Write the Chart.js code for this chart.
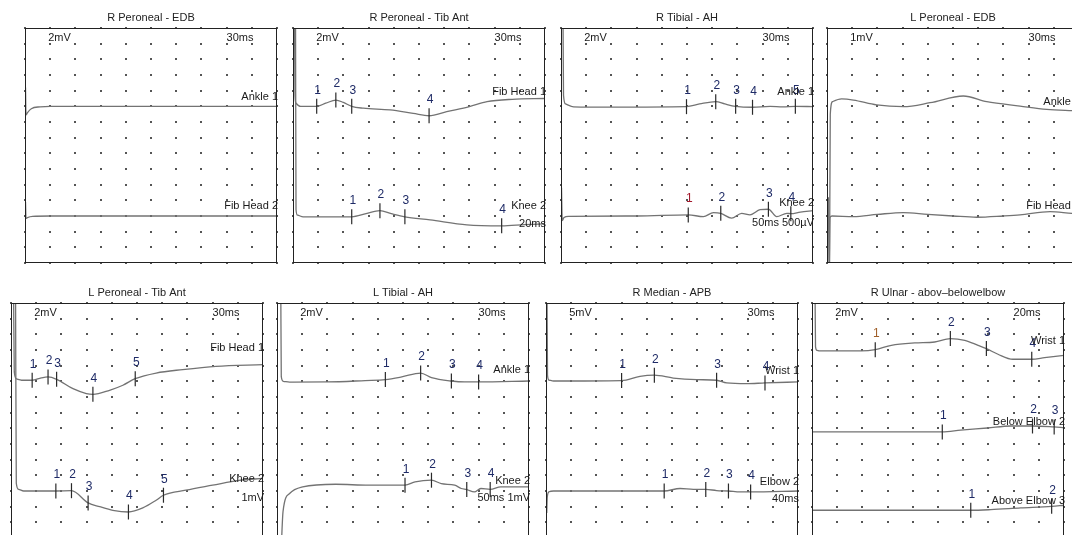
<!DOCTYPE html>
<html>
<head>
<meta charset="utf-8">
<script src="https://cdn.jsdelivr.net/npm/chart.js@4.4.1/dist/chart.umd.min.js"></script>
<style>
    html, body { margin: 0; padding: 0; background: #fff; }
    body { width: 1072px; height: 535px; overflow: hidden; position: relative; }
    canvas { position: absolute; }
</style>
</head>
<body>
<canvas id="panel_one" width="272" height="266" style="left:15px;top:7px"></canvas>
<canvas id="panel_two" width="272" height="266" style="left:283px;top:7px"></canvas>
<canvas id="panel_three" width="272" height="266" style="left:551px;top:7px"></canvas>
<canvas id="panel_four" width="272" height="266" style="left:817px;top:7px"></canvas>
<canvas id="panel_five" width="272" height="266" style="left:1px;top:282px"></canvas>
<canvas id="panel_six" width="272" height="266" style="left:267px;top:282px"></canvas>
<canvas id="panel_seven" width="272" height="266" style="left:536px;top:282px"></canvas>
<canvas id="panel_eight" width="272" height="266" style="left:802px;top:282px"></canvas>
<script>
// values are in grid divisions: x = 0..10 across, y = 0..15 down from the top

// -----------------PANEL ONE-----------------
const p1Title = "R Peroneal - EDB";
const p1Scale = ["2mV", "30ms"];
const p1Names = ["Ankle 1", "Fib Head 2"];
const p1Ankle = [[0.02, 3.8], [0.04, 5.55], [0.1, 5.4], [0.25, 5.15], [0.6, 5.03], [1, 5.0], [5, 5.0], [10, 5.0]];
const p1FibHead = [[0.02, 11.1], [0.04, 12.15], [0.1, 12.1], [0.3, 12.03], [1, 12.0], [5, 12.0], [10, 12.0]];

// -----------------PANEL TWO-----------------
const p2Title = "R Peroneal - Tib Ant";
const p2Scale = ["2mV", "30ms"];
const p2Names = ["Fib Head 1", "Knee 2"];
const p2Notes = ["20ms"];
const p2FibHead = [[0.06, -1], [0.08, 4.3], [0.12, 4.8], [0.3, 5.0], [0.94, 5.0], [1.3, 4.8], [1.7, 4.6], [2.0, 4.75], [2.33, 5.0], [2.79, 5.12], [3.85, 5.23], [4.77, 5.45], [5.4, 5.6], [6.1, 5.34], [7.0, 5.02], [7.7, 4.7], [8.7, 4.55], [10, 4.5]];
const p2FibHeadMarks = [[0.94, 5.0], [1.7, 4.6], [2.33, 5.0], [5.4, 5.6]];
const p2Knee = [[0.1, -1], [0.12, 11.6], [0.18, 11.95], [0.4, 12.05], [2.33, 12.05], [2.9, 11.85], [3.45, 11.66], [3.9, 11.85], [4.44, 12.05], [5.44, 12.25], [6.9, 12.57], [8.28, 12.63], [9.2, 12.55], [10, 12.5]];
const p2KneeMarks = [[2.33, 12.05], [3.45, 11.66], [4.44, 12.05], [8.28, 12.63]];

// -----------------PANEL THREE-----------------
const p3Title = "R Tibial - AH";
const p3Scale = ["2mV", "30ms"];
const p3Names = ["Ankle 1", "Knee 2"];
const p3Notes = ["50ms 500µV"];
const p3Ankle = [[0.08, -1], [0.1, 4.3], [0.18, 4.85], [0.5, 5.03], [2, 5.05], [4.98, 5.02], [5.5, 4.85], [6.14, 4.7], [6.5, 4.85], [6.93, 5.0], [7.6, 5.06], [8.3, 5.0], [8.8, 5.03], [9.3, 5.0], [10, 5.02]];
const p3AnkleMarks = [[4.98, 5.02], [6.14, 4.7], [6.93, 5.0], [7.6, 5.06], [9.3, 5.0]];
const p3Knee = [[0.02, 10.2], [0.05, 12.3], [0.12, 12.1], [0.3, 12.02], [3, 12.0], [5.05, 11.93], [5.65, 12.04], [6.05, 11.78], [6.34, 11.83], [6.77, 12.14], [7.17, 11.83], [7.5, 11.93], [7.9, 11.6], [8.23, 11.57], [8.56, 12.04], [8.96, 11.83], [9.12, 11.85], [9.5, 11.75], [10, 11.66]];
const p3KneeMarks = [[5.05, 11.93], [6.34, 11.83], [8.23, 11.57], [9.12, 11.85]];

// -----------------PANEL FOUR-----------------
const p4Title = "L Peroneal - EDB";
const p4Scale = ["1mV", "30ms"];
const p4Names = ["Ankle 1", "Fib Head 2"];
const p4Ankle = [[0.1, 16], [0.13, 5.5], [0.22, 4.7], [0.58, 4.53], [1.05, 4.6], [1.97, 4.91], [3.03, 5.02], [4.09, 4.77], [5.41, 4.34], [6.34, 4.7], [7.66, 4.98], [8.72, 5.19], [9.72, 5.28], [10, 5.3]];
const p4FibHead = [[0.06, 10.8], [0.08, 16], [0.12, 12.1], [0.2, 12.0], [1.05, 12.04], [2, 11.9], [3.03, 11.78], [4.0, 11.9], [5.0, 12.0], [5.94, 12.08], [7.0, 12.0], [7.66, 11.93], [8.85, 11.72], [9.72, 11.83], [10, 11.85]];

// -----------------PANEL FIVE-----------------
const p5Title = "L Peroneal - Tib Ant";
const p5Scale = ["2mV", "30ms"];
const p5Names = ["Fib Head 1", "Knee 2"];
const p5Notes = ["1mV"];
const p5FibHead = [[0.1, -1], [0.13, 4.4], [0.22, 4.85], [0.42, 4.93], [0.84, 4.93], [1.2, 4.78], [1.47, 4.72], [1.81, 4.87], [2.46, 5.47], [2.99, 5.78], [3.25, 5.83], [3.91, 5.57], [4.44, 5.25], [4.93, 4.83], [5.76, 4.47], [6.81, 4.25], [8.13, 4.04], [10, 3.93]];
const p5FibHeadMarks = [[0.84, 4.93], [1.47, 4.72], [1.81, 4.87], [3.25, 5.83], [4.93, 4.83]];
const p5Knee = [[0.18, -1], [0.21, 11.5], [0.3, 11.9], [0.5, 12.0], [1.78, 12.0], [2.4, 11.98], [3.06, 12.76], [3.52, 13.0], [4.04, 13.23], [4.66, 13.34], [5.23, 13.08], [5.76, 12.59], [6.05, 12.27], [6.94, 11.95], [8.0, 11.63], [9.05, 11.32], [10, 11.2]];
const p5KneeMarks = [[1.78, 12.0], [2.4, 11.98], [3.06, 12.76], [4.66, 13.34], [6.05, 12.27]];

// -----------------PANEL SIX-----------------
const p6Title = "L Tibial - AH";
const p6Scale = ["2mV", "30ms"];
const p6Names = ["Ankle 1", "Knee 2"];
const p6Notes = ["50ms 1mV"];
const p6Ankle = [[0.15, -1], [0.17, 4.7], [0.25, 5.0], [0.5, 5.05], [2, 5.04], [3.5, 4.95], [4.3, 4.89], [4.95, 4.72], [5.7, 4.47], [6.13, 4.76], [6.92, 4.98], [7.44, 5.04], [8.0, 5.04], [10, 4.98]];
const p6AnkleMarks = [[4.3, 4.89], [5.7, 4.47], [6.92, 4.98], [8.0, 5.04]];
const p6Knee = [[0.16, 16], [0.24, 13.3], [0.5, 12.16], [1.02, 11.74], [2.33, 11.57], [3.64, 11.63], [5.08, 11.63], [5.48, 11.42], [6.13, 11.31], [6.52, 11.53], [7.05, 11.63], [7.31, 11.84], [7.53, 11.91], [7.83, 12.06], [8.09, 11.84], [8.46, 11.9], [8.88, 11.74], [10, 11.74]];
const p6KneeMarks = [[5.08, 11.63], [6.13, 11.31], [7.53, 11.91], [8.46, 11.9]];

// -----------------PANEL SEVEN-----------------
const p7Title = "R Median - APB";
const p7Scale = ["5mV", "30ms"];
const p7Names = ["Wrist 1", "Elbow 2"];
const p7Notes = ["40ms"];
const p7Wrist = [[0.04, -1], [0.06, 4.6], [0.12, 4.92], [0.3, 4.98], [3.0, 4.95], [3.73, 4.68], [4.3, 4.61], [5.05, 4.79], [5.98, 4.89], [6.77, 4.93], [7.17, 5.1], [7.96, 5.15], [8.69, 5.1], [10, 5.04]];
const p7WristMarks = [[3.0, 4.95], [4.3, 4.61], [6.77, 4.93], [8.69, 5.1]];
const p7Elbow = [[0.03, 13.4], [0.05, 12.4], [0.12, 12.05], [0.3, 12.0], [4.69, 12.0], [5.32, 11.84], [5.85, 11.9], [6.34, 11.9], [6.77, 11.97], [7.24, 12.0], [7.7, 12.06], [8.12, 12.06], [10, 12.0]];
const p7ElbowMarks = [[4.69, 12.0], [6.34, 11.9], [7.24, 12.0], [8.12, 12.06]];

// -----------------PANEL EIGHT-----------------
const p8Title = "R Ulnar - abov\u2013belowelbow";
const p8Scale = ["2mV", "20ms"];
const p8Names = ["Wrist 1", "Below Elbow 2", "Above Elbow 3"];
const p8Wrist = [[0.12, -1], [0.14, 2.8], [0.2, 3.02], [0.3, 3.06], [1.95, 3.06], [2.51, 2.98], [3.15, 2.7], [4.08, 2.55], [4.87, 2.49], [5.49, 2.27], [6.06, 2.38], [6.59, 2.7], [6.92, 2.91], [7.38, 3.27], [7.97, 3.59], [8.72, 3.59], [9.23, 3.49], [10, 3.34]];
const p8WristMarks = [[2.51, 2.98], [5.49, 2.27], [6.92, 2.91], [8.72, 3.59]];
const p8Below = [[0, 8.23], [5.17, 8.23], [5.9, 8.12], [6.96, 7.98], [7.89, 7.85], [8.75, 7.85], [9.61, 7.91], [10, 7.95]];
const p8BelowMarks = [[5.17, 8.23], [8.75, 7.85], [9.61, 7.91]];
const p8Above = [[0, 13.23], [6.3, 13.23], [7.09, 13.19], [8.28, 13.08], [9.51, 12.98], [10, 12.91]];
const p8AboveMarks = [[6.3, 13.23], [9.51, 12.98]];


// -----------------LAYOUT-----------------
const FONT = "'Liberation Sans', Arial, sans-serif";
const MARK_COLOR = "#1e2a66";

// a few marker numbers print in another colour: [trace, marker, colour]
const p3Tints = [[1, 0, "#a3182c"]];
const p8Tints = [[0, 0, "#a0602a"]];

const panels = [
    { id: "panel_one", title: p1Title, scale: p1Scale, traces: [p1Ankle, p1FibHead], marks: [], tints: [],
      names: p1Names, nameRows: [4.4, 11.36], notes: [], noteRows: [] },
    { id: "panel_two", title: p2Title, scale: p2Scale, traces: [p2FibHead, p2Knee], marks: [p2FibHeadMarks, p2KneeMarks], tints: [],
      names: p2Names, nameRows: [4.08, 11.36], notes: p2Notes, noteRows: [12.5] },
    { id: "panel_three", title: p3Title, scale: p3Scale, traces: [p3Ankle, p3Knee], marks: [p3AnkleMarks, p3KneeMarks], tints: p3Tints,
      names: p3Names, nameRows: [4.08, 11.17], notes: p3Notes, noteRows: [12.44] },
    { id: "panel_four", title: p4Title, scale: p4Scale, traces: [p4Ankle, p4FibHead], marks: [], tints: [],
      names: p4Names, nameRows: [4.7, 11.36], notes: [], noteRows: [] },
    { id: "panel_five", title: p5Title, scale: p5Scale, traces: [p5FibHead, p5Knee], marks: [p5FibHeadMarks, p5KneeMarks], tints: [],
      names: p5Names, nameRows: [2.89, 11.25], notes: p5Notes, noteRows: [12.46] },
    { id: "panel_six", title: p6Title, scale: p6Scale, traces: [p6Ankle, p6Knee], marks: [p6AnkleMarks, p6KneeMarks], tints: [],
      names: p6Names, nameRows: [4.25, 11.34], notes: p6Notes, noteRows: [12.46] },
    { id: "panel_seven", title: p7Title, scale: p7Scale, traces: [p7Wrist, p7Elbow], marks: [p7WristMarks, p7ElbowMarks], tints: [],
      names: p7Names, nameRows: [4.32, 11.44], notes: p7Notes, noteRows: [12.53] },
    { id: "panel_eight", title: p8Title, scale: p8Scale, traces: [p8Wrist, p8Below, p8Above], marks: [p8WristMarks, p8BelowMarks, p8AboveMarks], tints: p8Tints,
      names: p8Names, nameRows: [2.43, 7.57, 12.62], notes: [], noteRows: [] }
];

// dotted grid, box, marker numbers and the text on each trace
const emgPlugin = {
    id: "emg",
    beforeDatasetsDraw(chart) {
        const ctx = chart.ctx;
        const xs = chart.scales.x;
        const ys = chart.scales.y;
        ctx.save();
        ctx.fillStyle = "#555";
        for (let i = 0; i <= 10; i++) {
            for (let j = 0; j <= 15; j++) {
                let px = Math.round(xs.getPixelForValue(i));
                let py = Math.round(ys.getPixelForValue(j));
                ctx.fillRect(px - 1, py - 1, 2, 2);
            }
        }
        ctx.restore();
    },
    afterDatasetsDraw(chart, args, opts) {
        const ctx = chart.ctx;
        const a = chart.chartArea;
        const xs = chart.scales.x;
        const ys = chart.scales.y;
        ctx.save();
        ctx.strokeStyle = "#222";
        ctx.lineWidth = 1;
        ctx.strokeRect(Math.round(a.left) + 0.5, Math.round(a.top) + 0.5, Math.round(a.width) - 1, Math.round(a.height) - 1);

        ctx.textBaseline = "middle";

        // numbers over the marker ticks
        ctx.font = "12px " + FONT;
        ctx.textAlign = "center";
        chart.data.datasets.forEach((ds, i) => {
            if (ds.markOf === undefined) return;
            chart.getDatasetMeta(i).data.forEach((pt, k) => {
                let tint = opts.tints.find(t => t[0] === ds.markOf && t[1] === k);
                ctx.fillStyle = tint ? tint[2] : MARK_COLOR;
                ctx.fillText(String(k + 1), pt.x + 1, pt.y - 16);
            });
        });

        ctx.font = "11px " + FONT;
        ctx.fillStyle = "#1a1a1a";
        // gain / sweep at the top
        ctx.textAlign = "left";
        ctx.fillText(opts.scale[0], xs.getPixelForValue(0.92), ys.getPixelForValue(0.62));
        ctx.fillText(opts.scale[1], xs.getPixelForValue(8.0), ys.getPixelForValue(0.62));

        // trace names at the right edge
        ctx.textAlign = "right";
        opts.names.forEach((t, i) => {
            ctx.fillText(t, a.right + 1, ys.getPixelForValue(opts.nameRows[i]));
        });
        opts.notes.forEach((t, i) => {
            ctx.fillText(t, a.right + 1, ys.getPixelForValue(opts.noteRows[i]));
        });
        ctx.restore();
    }
};

function makePanel(p) {
    let datasets = [];
    p.traces.forEach(t => {
        datasets.push({
            data: t,
            showLine: true,
            borderColor: "#737373",
            borderWidth: 1.3,
            pointRadius: 0,
            cubicInterpolationMode: "monotone",
            order: 2
        });
    });
    p.marks.forEach((m, i) => {
        datasets.push({
            data: m,
            markOf: i,
            showLine: false,
            pointStyle: "line",
            rotation: 90,
            pointRadius: 7.5,
            borderColor: "#2a2a2a",
            borderWidth: 1.2,
            order: 1
        });
    });

    const canvas = document.getElementById(p.id);
    return new Chart(canvas, {
        type: "scatter",
        data: { datasets: datasets },
        plugins: [emgPlugin],
        options: {
            responsive: false,
            animation: false,
            events: [],
            // wide side padding keeps the marker ticks from shrinking the box
            layout: { padding: { left: 10, right: 10, top: 0.8, bottom: 10 } },
            scales: {
                x: { type: "linear", min: 0, max: 10, display: false },
                y: { type: "linear", min: 0, max: 15, reverse: true, display: false }
            },
            plugins: {
                legend: { display: false },
                tooltip: { enabled: false },
                title: {
                    display: true,
                    text: p.title,
                    color: "#222",
                    font: { family: FONT, size: 11, weight: "normal", lineHeight: 1.2 },
                    padding: { top: 4, bottom: 3 }
                },
                emg: { scale: p.scale, names: p.names, nameRows: p.nameRows, notes: p.notes, noteRows: p.noteRows, tints: p.tints }
            }
        }
    });
}

panels.forEach(p => makePanel(p));
</script>
</body>
</html>
